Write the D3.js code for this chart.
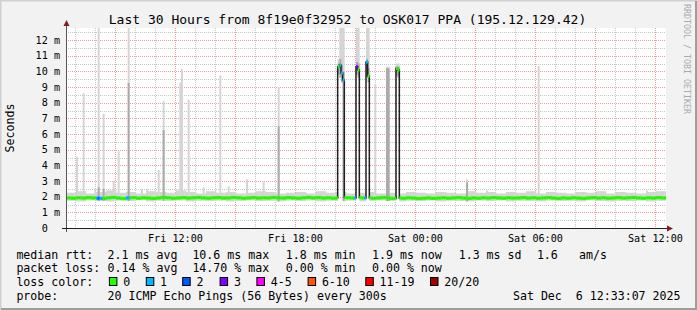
<!DOCTYPE html>
<html>
<head>
<meta charset="utf-8">
<script src="https://cdn.jsdelivr.net/npm/d3@7"></script>
<style>
  html, body { margin: 0; padding: 0; background: #f2f2f2; }
  svg { display: block; }
  text { font-family: "DejaVu Sans Mono", monospace; white-space: pre; }
</style>
</head>
<body>
<div id="chart"></div>
<script>
// ---- data ----
const title = "Last 30 Hours from 8f19e0f32952 to OSK017 PPA (195.12.129.42)";
const yTicks = [0, 1, 2, 3, 4, 5, 6, 7, 8, 9, 10, 11, 12];

// median rtt (ms), one value per 15 minutes
const baseMedian = [
  1.92,1.90,1.93,1.91,1.94,1.92,1.90,1.89,1.93,1.95,
  1.91,1.88,1.92,1.94,1.90,1.93,1.91,1.89,1.92,1.95,
  1.93,1.90,1.92,1.94,1.91,1.93,1.95,1.92,1.90,1.93,
  1.94,1.91,1.92,1.95,1.93,1.90,1.92,1.94,1.91,1.93,
  1.92,1.95,1.93,1.91,1.94,1.92,1.90,1.93,1.95,1.92,
  1.94,1.91,1.93,1.90,1.92,1.95,1.93,1.91,1.94,1.92,
  1.93,1.90,1.92,1.94,1.91,1.89,1.92,1.90,1.93,1.91,
  1.88,1.90,1.92,1.89,1.91,1.93,1.90,1.92,1.94,1.91,
  1.89,1.92,1.90,1.93,1.91,1.94,1.92,1.90,1.93,1.91,
  1.92,1.94,1.91,1.93,1.90,1.92,1.94,1.91,1.89,1.92,
  1.90,1.93,1.91,1.89,1.92,1.94,1.91,1.93,1.90,1.92,
  1.94,1.91,1.93,1.95,1.92,1.90,1.93,1.91,1.94,1.92
];
// smoke band around the baseline (ms), one value per 30 minutes
const baseSmokeHi = [
  2.25,2.35,2.20,2.30,2.40,2.25,2.30,2.20,2.35,2.30,
  2.25,2.40,2.30,2.20,2.35,2.25,2.30,2.20,2.25,2.35,
  2.30,2.20,2.25,2.30,2.20,2.35,2.25,2.30,2.20,2.25,
  2.30,2.20,2.25,2.20,2.30,2.25,2.20,2.30,2.25,2.20,
  2.35,2.25,2.30,2.20,2.30,2.25,2.35,2.20,2.30,2.25,
  2.20,2.30,2.25,2.35,2.20,2.30,2.25,2.20,2.30,2.35
];
const baseSmokeLo = [
  1.74,1.70,1.76,1.72,1.70,1.75,1.72,1.78,1.70,1.74,
  1.72,1.76,1.70,1.74,1.72,1.75,1.70,1.73,1.76,1.72,
  1.74,1.70,1.75,1.72,1.76,1.70,1.74,1.72,1.75,1.70,
  1.73,1.76,1.72,1.70,1.74,1.72,1.75,1.70,1.74,1.72,
  1.70,1.75,1.72,1.76,1.70,1.74,1.72,1.70,1.75,1.72,
  1.74,1.70,1.76,1.72,1.70,1.74,1.72,1.75,1.70,1.74
];

// spikes in the smoke (5-minute sample index, top ms, darker inner top ms, bottom ms or 0)
const spikeIdx = [6,10,17,19,22,28,31,37,45,48,55,58,68,69,73,82,92,97,108,118,127,
                  163,164,165,166,174,175,180,181,185,192,193,198,199,240,252,283,348];
const spikeHi  = [4.55,8.6,2.5,12.8,7.3,3.0,4.9,12.8,2.5,2.5,3.7,8.1,9.3,10.15,8.2,2.6,9.75,2.65,3.1,2.95,9.0,
                  10.8,12.8,12.8,12.8,12.8,12.8,12.8,12.8,9.2,10.3,10.3,10.5,10.5,3.1,2.4,10.35,2.4];
const spikeMid = [0,0,0,2.6,2.5,0,0,9.25,0,0,0,6.25,0,0,0,0,0,0,0,0,6.5,
                  10.5,10.8,10.4,10.0,10.6,10.5,10.8,10.2,0,10.2,10.2,10.3,10.3,2.9,0,0,0];
const spikeLo  = [0,0,0,0,0,0,0,0,0,0,0,0,0,0,0,0,0,0,0,0,0,
                  9.8,9.6,9.3,0,9.8,9.6,9.6,9.3,0,0,0,9.7,9.6,0,0,0,0];

// median excursions (5-minute sample index, ms)
const excIdx    = [163,164,165,166,174,175,180,181,198,199];
const excMedian = [10.3,10.4,9.9,9.45,10.3,10.1,10.6,9.7,10.2,10.1];

// lost pings out of 20 (5-minute sample index, count)
const lossIdx   = [18,19,20,21,36,37,164,165,166,173,174,179,180];
const lossPings = [1,2,1,1,1,1,1,1,1,1,3,1,1];

// legend
const medianStats = ["2.1 ms avg", "10.6 ms max", "1.8 ms min", "1.9 ms now", "1.3 ms sd", "1.6", "am/s"];
const lossStats   = ["0.14 % avg", "14.70 % max", "0.00 % min", "0.00 % now"];
const lossLabels  = ["0", "1", "2", "3", "4-5", "6-10", "11-19", "20/20"];
const lossColors  = ["#26ff00", "#00b8ff", "#0059ff", "#7e00ff", "#ff00ff", "#ff5500", "#ff0000", "#a10000"];
const probeText   = "20 ICMP Echo Pings (56 Bytes) every 300s";
const stampText   = "Sat Dec  6 12:33:07 2025";

// ---- layout ----
const width = 697, height = 310;
const plot = { left: 66, right: 666, top: 28, bottom: 228 };
const nSamples = 360;
const stepMs = 300 * 1000;
const t0 = Date.UTC(2025, 11, 5, 6, 33, 7);
const t1 = Date.UTC(2025, 11, 6, 12, 33, 7);

const x = d3.scaleUtc().domain([new Date(t0), new Date(t1)]).range([plot.left, plot.right]);
const y = d3.scaleLinear().domain([0, 12.77]).range([plot.bottom, plot.top]);
const crisp = v => Math.round(v) + 0.5;

function lossBucket(p) {
  if (p <= 3) return p;
  if (p <= 5) return 4;
  if (p <= 10) return 5;
  if (p <= 19) return 6;
  return 7;
}

// build the 5 minute samples
const samples = d3.range(nSamples).map(i => ({
  t: new Date(t0 + i * stepMs),
  t2: new Date(t0 + (i + 1) * stepMs),
  median: baseMedian[Math.floor(i / 3)],
  lo: baseSmokeLo[Math.floor(i / 6)],
  hi: baseSmokeHi[Math.floor(i / 6)],
  mid: 0,
  loss: 0
}));
spikeIdx.forEach((k, j) => {
  const s = samples[k];
  s.hi = Math.max(s.hi, spikeHi[j]);
  s.mid = spikeMid[j];
  if (spikeLo[j]) s.lo = spikeLo[j];
});
excIdx.forEach((k, j) => { samples[k].median = excMedian[j]; });
lossIdx.forEach((k, j) => { samples[k].loss = lossPings[j]; });

const svg = d3.select("#chart").append("svg")
  .attr("width", width)
  .attr("height", height);

// background + 3d frame
svg.append("rect").attr("width", width).attr("height", height).attr("fill", "#f2f2f2");
svg.append("path").attr("d", `M0.5,${height} V0.5 H${width}`).attr("fill", "none")
  .attr("stroke", "#cfcfcf").attr("stroke-width", 2);
svg.append("path").attr("d", `M1,${height - 1} H${width - 1} V1`).attr("fill", "none")
  .attr("stroke", "#9e9e9e").attr("stroke-width", 2);

svg.append("rect")
  .attr("x", plot.left).attr("y", plot.top)
  .attr("width", plot.right - plot.left).attr("height", plot.bottom - plot.top)
  .attr("fill", "#ffffff");

svg.append("defs").append("clipPath").attr("id", "clip")
  .append("rect")
  .attr("x", plot.left).attr("y", plot.top)
  .attr("width", plot.right - plot.left).attr("height", plot.bottom - plot.top);

// grid
const grid = svg.append("g");
const hours = x.ticks(d3.utcHour.every(1));
const minorX = hours.filter(d => d.getUTCHours() % 3 !== 0);
const majorX = hours.filter(d => d.getUTCHours() % 3 === 0);
const minorY = d3.range(1, 26).map(v => v / 2).filter(v => v % 1 !== 0);
const majorY = yTicks.filter(v => v > 0);

grid.selectAll(".gx").data(minorX).join("line")
  .attr("x1", d => crisp(x(d))).attr("x2", d => crisp(x(d)))
  .attr("y1", plot.top).attr("y2", plot.bottom)
  .attr("stroke", "rgba(143,143,143,0.5)").attr("stroke-dasharray", "1,1");
grid.selectAll(".gy").data(minorY).join("line")
  .attr("x1", plot.left).attr("x2", plot.right)
  .attr("y1", d => crisp(y(d))).attr("y2", d => crisp(y(d)))
  .attr("stroke", "rgba(143,143,143,0.5)").attr("stroke-dasharray", "1,1");
grid.selectAll(".mx").data(majorX).join("line")
  .attr("x1", d => crisp(x(d))).attr("x2", d => crisp(x(d)))
  .attr("y1", plot.top).attr("y2", plot.bottom)
  .attr("stroke", "rgba(222,79,79,0.55)").attr("stroke-dasharray", "1,1");
grid.selectAll(".my").data(majorY).join("line")
  .attr("x1", plot.left).attr("x2", plot.right)
  .attr("y1", d => crisp(y(d))).attr("y2", d => crisp(y(d)))
  .attr("stroke", "rgba(222,79,79,0.55)").attr("stroke-dasharray", "1,1");

// smoke
const g = svg.append("g").attr("clip-path", "url(#clip)");
g.selectAll(".smoke").data(samples).join("rect")
  .attr("x", d => x(d.t)).attr("width", d => x(d.t2) - x(d.t) + 0.3)
  .attr("y", d => y(d.hi)).attr("height", d => y(d.lo) - y(d.hi))
  .attr("fill", "#d4d4d4");
g.selectAll(".smoke2").data(samples.filter(d => d.mid > 0)).join("rect")
  .attr("x", d => x(d.t)).attr("width", d => x(d.t2) - x(d.t) + 0.3)
  .attr("y", d => y(d.mid)).attr("height", d => y(d.lo) - y(d.mid))
  .attr("fill", "#aaaaaa");

// black median line
const line = d3.line()
  .x(d => x(d.t))
  .y(d => y(d.median))
  .curve(d3.curveStepAfter);
g.append("path")
  .datum(samples.concat([{ t: new Date(t1), median: samples[nSamples - 1].median }]))
  .attr("d", line)
  .attr("fill", "none")
  .attr("stroke", "#202020")
  .attr("stroke-width", 1.5);

// loss coloured median band
g.selectAll(".med").data(samples).join("rect")
  .attr("x", d => x(d.t)).attr("width", d => x(d.t2) - x(d.t) + 0.2)
  .attr("y", d => y(d.median) - 1.6).attr("height", 3.2)
  .attr("fill", d => lossColors[lossBucket(d.loss)]);

// axes lines
svg.append("line")
  .attr("x1", crisp(plot.left)).attr("x2", crisp(plot.left))
  .attr("y1", plot.bottom + 4).attr("y2", 22)
  .attr("stroke", "#555");
svg.append("path")
  .attr("d", `M${crisp(plot.left)},20 L${crisp(plot.left) - 3},26 L${crisp(plot.left) + 3},26 Z`)
  .attr("fill", "#801f1f");
svg.append("line")
  .attr("x1", plot.left - 4).attr("x2", plot.right + 4)
  .attr("y1", crisp(plot.bottom)).attr("y2", crisp(plot.bottom))
  .attr("stroke", "#1f1f1f");
svg.append("path")
  .attr("d", `M${plot.right + 7},${crisp(plot.bottom)} L${plot.right + 1},${crisp(plot.bottom) - 3} L${plot.right + 1},${crisp(plot.bottom) + 3} Z`)
  .attr("fill", "#801f1f");

// x axis labels
const xAxis = d3.axisBottom(x)
  .tickValues(x.ticks(d3.utcHour.every(6)))
  .tickFormat(d3.utcFormat("%a %H:%M"))
  .tickSize(0)
  .tickPadding(6.8);
svg.append("g")
  .attr("transform", `translate(0,${plot.bottom})`)
  .call(xAxis)
  .call(a => a.select(".domain").remove())
  .call(a => a.selectAll("text")
    .attr("font-family", "DejaVu Sans Mono, monospace")
    .attr("font-size", 10.15)
    .attr("fill", "#000"));

// y axis labels
const yAxis = d3.axisLeft(y)
  .tickValues(yTicks)
  .tickFormat(d => d === 0 ? "0  " : d + " m")
  .tickSize(0)
  .tickPadding(6);
svg.append("g")
  .attr("transform", `translate(${plot.left},0)`)
  .call(yAxis)
  .call(a => a.select(".domain").remove())
  .call(a => a.selectAll("text")
    .attr("font-family", "DejaVu Sans Mono, monospace")
    .attr("font-size", 10.15)
    .attr("fill", "#000")
    .attr("xml:space", "preserve"));

// title + axis title + watermark
svg.append("text")
  .attr("x", 347.5).attr("y", 23.5)
  .attr("text-anchor", "middle")
  .attr("font-size", 13)
  .text(title);
svg.append("text")
  .attr("transform", "translate(14,128) rotate(-90)")
  .attr("text-anchor", "middle")
  .attr("font-size", 11.6)
  .text("Seconds");
svg.append("text")
  .attr("transform", "translate(684,4) rotate(90)")
  .attr("font-size", 8.3)
  .attr("fill", "#aaaaaa")
  .text("RRDTOOL / TOBI OETIKER");

// legend
const leg = svg.append("g").attr("font-size", 11.6).attr("fill", "#000");
const col0 = 16.4;
const statX = [107.6, 192.4, 285.8, 372, 458.7, 536.9, 579];
const rowY = [259, 272, 286, 300];

leg.append("text").attr("x", col0).attr("y", rowY[0]).text("median rtt:");
leg.selectAll(".ms").data(medianStats).join("text")
  .attr("x", (d, i) => statX[i]).attr("y", rowY[0]).text(d => d);

leg.append("text").attr("x", col0).attr("y", rowY[1]).text("packet loss:");
leg.selectAll(".ls").data(lossStats).join("text")
  .attr("x", (d, i) => statX[i]).attr("y", rowY[1]).text(d => d);

leg.append("text").attr("x", col0).attr("y", rowY[2]).text("loss color:");
const boxX = [108.9, 145.8, 182.2, 219.6, 256.4, 307.6, 365.3, 430];
leg.selectAll(".lb").data(lossLabels).join("rect")
  .attr("x", (d, i) => boxX[i] + 0.5).attr("y", rowY[2] - 8.5)
  .attr("width", 7.5).attr("height", 8)
  .attr("fill", (d, i) => lossColors[i])
  .attr("stroke", "#000").attr("stroke-width", 1);
leg.selectAll(".lt").data(lossLabels).join("text")
  .attr("x", (d, i) => boxX[i] + 14.3).attr("y", rowY[2]).text(d => d);

leg.append("text").attr("x", col0).attr("y", rowY[3]).text("probe:");
leg.append("text").attr("x", statX[0]).attr("y", rowY[3]).text(probeText);
leg.append("text").attr("x", 680.5).attr("y", rowY[3]).attr("text-anchor", "end").text(stampText);
</script>
</body>
</html>
